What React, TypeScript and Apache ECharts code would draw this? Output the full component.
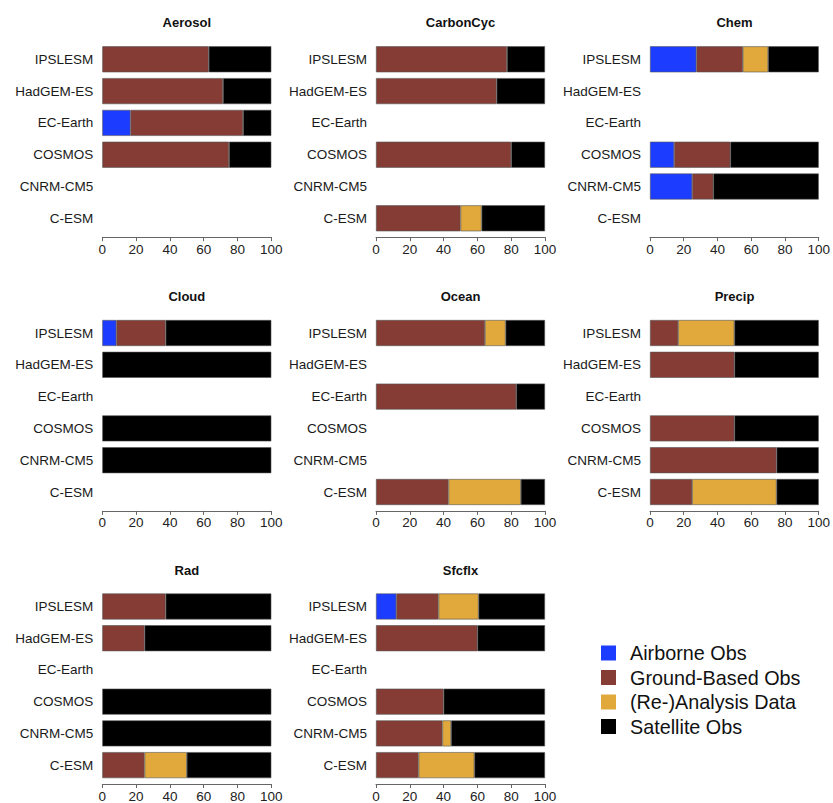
import React, { useEffect, useRef } from "react";
import * as echarts from "echarts";

// categories, top to bottom
const models = ["IPSLESM", "HadGEM-ES", "EC-Earth", "COSMOS", "CNRM-CM5", "C-ESM"];
const sources = ["Airborne Obs", "Ground-Based Obs", "(Re-)Analysis Data", "Satellite Obs"];
const sourceColors = ["#1c3cff", "#843c35", "#e1a83b", "#000000"];
const panelTitles = ["Aerosol", "CarbonCyc", "Chem", "Cloud", "Ocean", "Precip", "Rad", "Sfcflx"];
const xTicks = [0, 20, 40, 60, 80, 100];

// per-panel values (percent), order follows `models`
const aerosolAirborne = [0, 0, 16.7, 0, 0, 0];
const aerosolGround = [63, 71.4, 66.6, 75, 0, 0];
const aerosolAnalysis = [0, 0, 0, 0, 0, 0];
const aerosolSatellite = [37, 28.6, 16.7, 25, 0, 0];

const carbonAirborne = [0, 0, 0, 0, 0, 0];
const carbonGround = [77.5, 71.4, 0, 80, 0, 50];
const carbonAnalysis = [0, 0, 0, 0, 0, 12.5];
const carbonSatellite = [22.5, 28.6, 0, 20, 0, 37.5];

const chemAirborne = [27.5, 0, 0, 14.3, 25, 0];
const chemGround = [27.5, 0, 0, 33.3, 12.5, 0];
const chemAnalysis = [15, 0, 0, 0, 0, 0];
const chemSatellite = [30, 0, 0, 52.4, 62.5, 0];

const cloudAirborne = [8.3, 0, 0, 0, 0, 0];
const cloudGround = [29.2, 0, 0, 0, 0, 0];
const cloudAnalysis = [0, 0, 0, 0, 0, 0];
const cloudSatellite = [62.5, 100, 0, 100, 100, 0];

const oceanAirborne = [0, 0, 0, 0, 0, 0];
const oceanGround = [64.5, 0, 83, 0, 0, 42.9];
const oceanAnalysis = [12.2, 0, 0, 0, 0, 42.8];
const oceanSatellite = [23.3, 0, 17, 0, 0, 14.3];

const precipAirborne = [0, 0, 0, 0, 0, 0];
const precipGround = [16.7, 50, 0, 50, 75, 25];
const precipAnalysis = [33.3, 0, 0, 0, 0, 50];
const precipSatellite = [50, 50, 0, 50, 25, 25];

const radAirborne = [0, 0, 0, 0, 0, 0];
const radGround = [37.5, 25, 0, 0, 0, 25];
const radAnalysis = [0, 0, 0, 0, 0, 25];
const radSatellite = [62.5, 75, 0, 100, 100, 50];

const sfcflxAirborne = [12, 0, 0, 0, 0, 0];
const sfcflxGround = [25, 60, 0, 40, 39.3, 25.2];
const sfcflxAnalysis = [23.7, 0, 0, 0, 5.1, 33];
const sfcflxSatellite = [39.3, 40, 0, 60, 55.6, 41.8];

const panelData = [
  [aerosolAirborne, aerosolGround, aerosolAnalysis, aerosolSatellite],
  [carbonAirborne, carbonGround, carbonAnalysis, carbonSatellite],
  [chemAirborne, chemGround, chemAnalysis, chemSatellite],
  [cloudAirborne, cloudGround, cloudAnalysis, cloudSatellite],
  [oceanAirborne, oceanGround, oceanAnalysis, oceanSatellite],
  [precipAirborne, precipGround, precipAnalysis, precipSatellite],
  [radAirborne, radGround, radAnalysis, radSatellite],
  [sfcflxAirborne, sfcflxGround, sfcflxAnalysis, sfcflxSatellite],
];

const FONT = "'Liberation Sans', Arial, Helvetica, sans-serif";
const colLefts = [102.3, 376, 650];
const rowTops = [43.4, 317.1, 590.6];
const plotW = 169;
const plotH = 190.8;

export default function App() {
  const ref = useRef<HTMLDivElement>(null);
  useEffect(() => {
    if (!ref.current) return;
    const chart = echarts.init(ref.current, null, { renderer: "svg" });
    const grids: any[] = [];
    const xAxes: any[] = [];
    const yAxes: any[] = [];
    const series: any[] = [];
    const graphics: any[] = [];
    panelTitles.forEach((title, p) => {
      const col = p % 3;
      const row = Math.floor(p / 3);
      const left = colLefts[col];
      const top = rowTops[row];
      grids.push({ left, top, width: plotW, height: plotH, containLabel: false });
      xAxes.push({
        type: "value",
        gridIndex: p,
        min: 0,
        max: 100,
        interval: 20,
        offset: 3,
        splitLine: { show: false },
        axisLine: { show: true, lineStyle: { color: "#666", width: 1 } },
        axisTick: { show: true, length: 4, lineStyle: { color: "#666" } },
        axisLabel: {
          show: true,
          margin: 5,
          fontSize: 13.5,
          fontFamily: FONT,
          color: "#222",
          formatter: (v: number) => (xTicks.includes(v) ? String(v) : ""),
        },
      });
      yAxes.push({
        type: "category",
        gridIndex: p,
        data: models,
        inverse: true,
        axisLine: { show: false },
        axisTick: { show: false },
        axisLabel: { margin: 9, fontSize: 13.5, fontFamily: FONT, color: "#1a1a1a" },
      });
      sources.forEach((src, s) => {
        series.push({
          type: "bar",
          name: src,
          xAxisIndex: p,
          yAxisIndex: p,
          stack: "panel" + p,
          barWidth: 26,
          itemStyle: { color: sourceColors[s], borderColor: "#555", borderWidth: 0.6 },
          data: panelData[p][s].map((v) => (v > 0 ? v : "-")),
        });
      });
      graphics.push({
        type: "text",
        x: left + plotW / 2,
        y: top - 20.5,
        style: {
          text: title,
          fontSize: 13,
          fontWeight: "bold",
          fontFamily: FONT,
          fill: "#111",
          textAlign: "center",
          textVerticalAlign: "middle",
        },
      });
    });
    chart.setOption({
      animation: false,
      backgroundColor: "#ffffff",
      grid: grids,
      xAxis: xAxes,
      yAxis: yAxes,
      series,
      graphic: graphics,
      legend: {
        data: sources,
        orient: "vertical",
        left: 596,
        top: 638,
        itemWidth: 15,
        itemHeight: 15,
        itemGap: 4.5,
        icon: "rect",
        selectedMode: false,
        itemStyle: { borderWidth: 0 },
        textStyle: {
          fontSize: 19.8,
          fontFamily: FONT,
          color: "#111",
          lineHeight: 20,
          padding: [0, 0, 0, 9],
        },
      },
    });
    return () => chart.dispose();
  }, []);
  return (
    <div
      ref={ref}
      style={{ position: "absolute", left: 0, top: 0, width: 833, height: 803 }}
    />
  );
}
